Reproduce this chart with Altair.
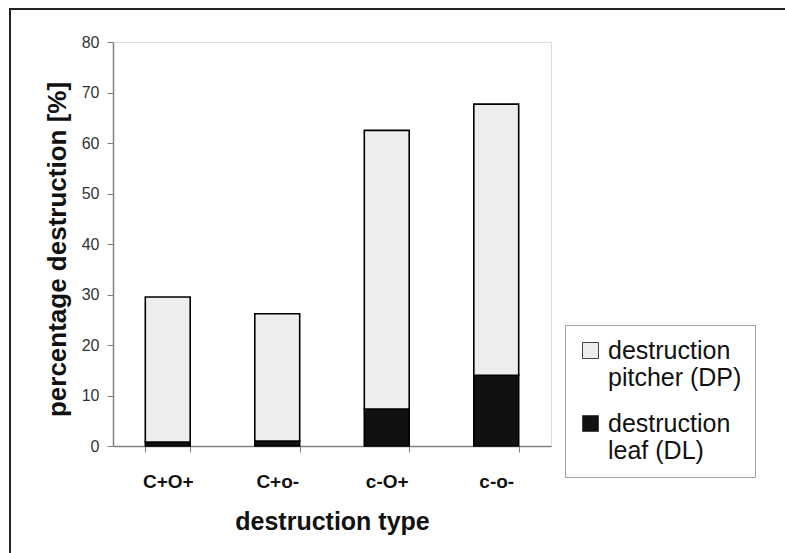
import altair as alt
import pandas as pd

categories = ["C+O+", "C+o-", "c-O+", "c-o-"]
series = ["destruction|pitcher (DP)", "destruction|leaf (DL)"]
dl_values = [0.8, 1.0, 7.3, 14.0]
dp_values = [28.7, 25.2, 55.2, 53.7]
y_ticks = [0, 10, 20, 30, 40, 50, 60, 70, 80]

rows = []
for c, dp, dl in zip(categories, dp_values, dl_values):
    rows.append({"type": c, "series": series[1], "value": dl, "order": 0})
    rows.append({"type": c, "series": series[0], "value": dp, "order": 1})
df = pd.DataFrame(rows)

FONT = "Liberation Sans"

bars = alt.Chart(df).mark_bar(stroke="#000000", strokeWidth=1.6).encode(
    x=alt.X(
        "type:N",
        sort=categories,
        scale=alt.Scale(paddingInner=0.59, paddingOuter=0.295),
        axis=alt.Axis(
            title="destruction type",
            labelAngle=0,
            labelFont=FONT,
            labelFontSize=19,
            labelFontWeight="bold",
            labelColor="#111111",
            labelPadding=20,
            tickBand="extent",
            tickSize=6,
            tickColor="#808080",
            domainColor="#808080",
            domainWidth=1.5,
            titleFont=FONT,
            titleFontSize=25,
            titleFontWeight="bold",
            titleColor="#111111",
            titleBaseline="alphabetic",
            titleY=83,
        ),
    ),
    y=alt.Y(
        "value:Q",
        stack="zero",
        scale=alt.Scale(domain=[0, 80], nice=False),
        axis=alt.Axis(
            title="percentage destruction [%]",
            values=y_ticks,
            grid=False,
            labelFont=FONT,
            labelFontSize=16,
            labelColor="#333333",
            labelPadding=8,
            tickSize=6,
            tickColor="#808080",
            domainColor="#808080",
            domainWidth=1.5,
            titleFont=FONT,
            titleFontSize=26,
            titleFontWeight="bold",
            titleColor="#111111",
            titleAngle=-90,
            titleBaseline="alphabetic",
            titleAlign="center",
            titleX=-48,
            titleY=207,
        ),
    ),
    color=alt.Color(
        "series:N",
        sort=series,
        scale=alt.Scale(domain=series, range=["#ededed", "#111111"]),
        legend=alt.Legend(
            title=None,
            orient="none",
            legendX=452,
            legendY=283,
            labelExpr="split(datum.label, '|')",
            labelFont=FONT,
            labelFontSize=25,
            labelColor="#111111",
            labelLimit=400,
            labelBaseline="middle",
            labelOffset=5,
            symbolType="square",
            symbolSize=256,
            symbolStrokeColor="#444444",
            symbolStrokeWidth=1,
            strokeColor="#a0a0a0",
            fillColor="#ffffff",
            padding=13,
            rowPadding=20,
        ),
    ),
    order=alt.Order("order:Q"),
)

frame_df = pd.DataFrame({"k": [0]})
frame_top = alt.Chart(frame_df).mark_rect(fill="#222222", strokeWidth=0).encode(
    x=alt.value(-104), x2=alt.value(672), y=alt.value(-34), y2=alt.value(-32)
)
frame_left = alt.Chart(frame_df).mark_rect(fill="#222222", strokeWidth=0).encode(
    x=alt.value(-104), x2=alt.value(-102), y=alt.value(-34), y2=alt.value(511)
)

chart = alt.layer(frame_top, frame_left, bars).properties(
    width=438,
    height=404,
    autosize=alt.AutoSizeParams(type="none"),
    padding={"left": 113, "top": 42, "right": 234, "bottom": 107},
).configure_view(
    stroke="#a0a0a0", strokeWidth=2
).configure(background="#ffffff")

chart.save("out.html", embed_options={"renderer": "svg", "actions": False})
